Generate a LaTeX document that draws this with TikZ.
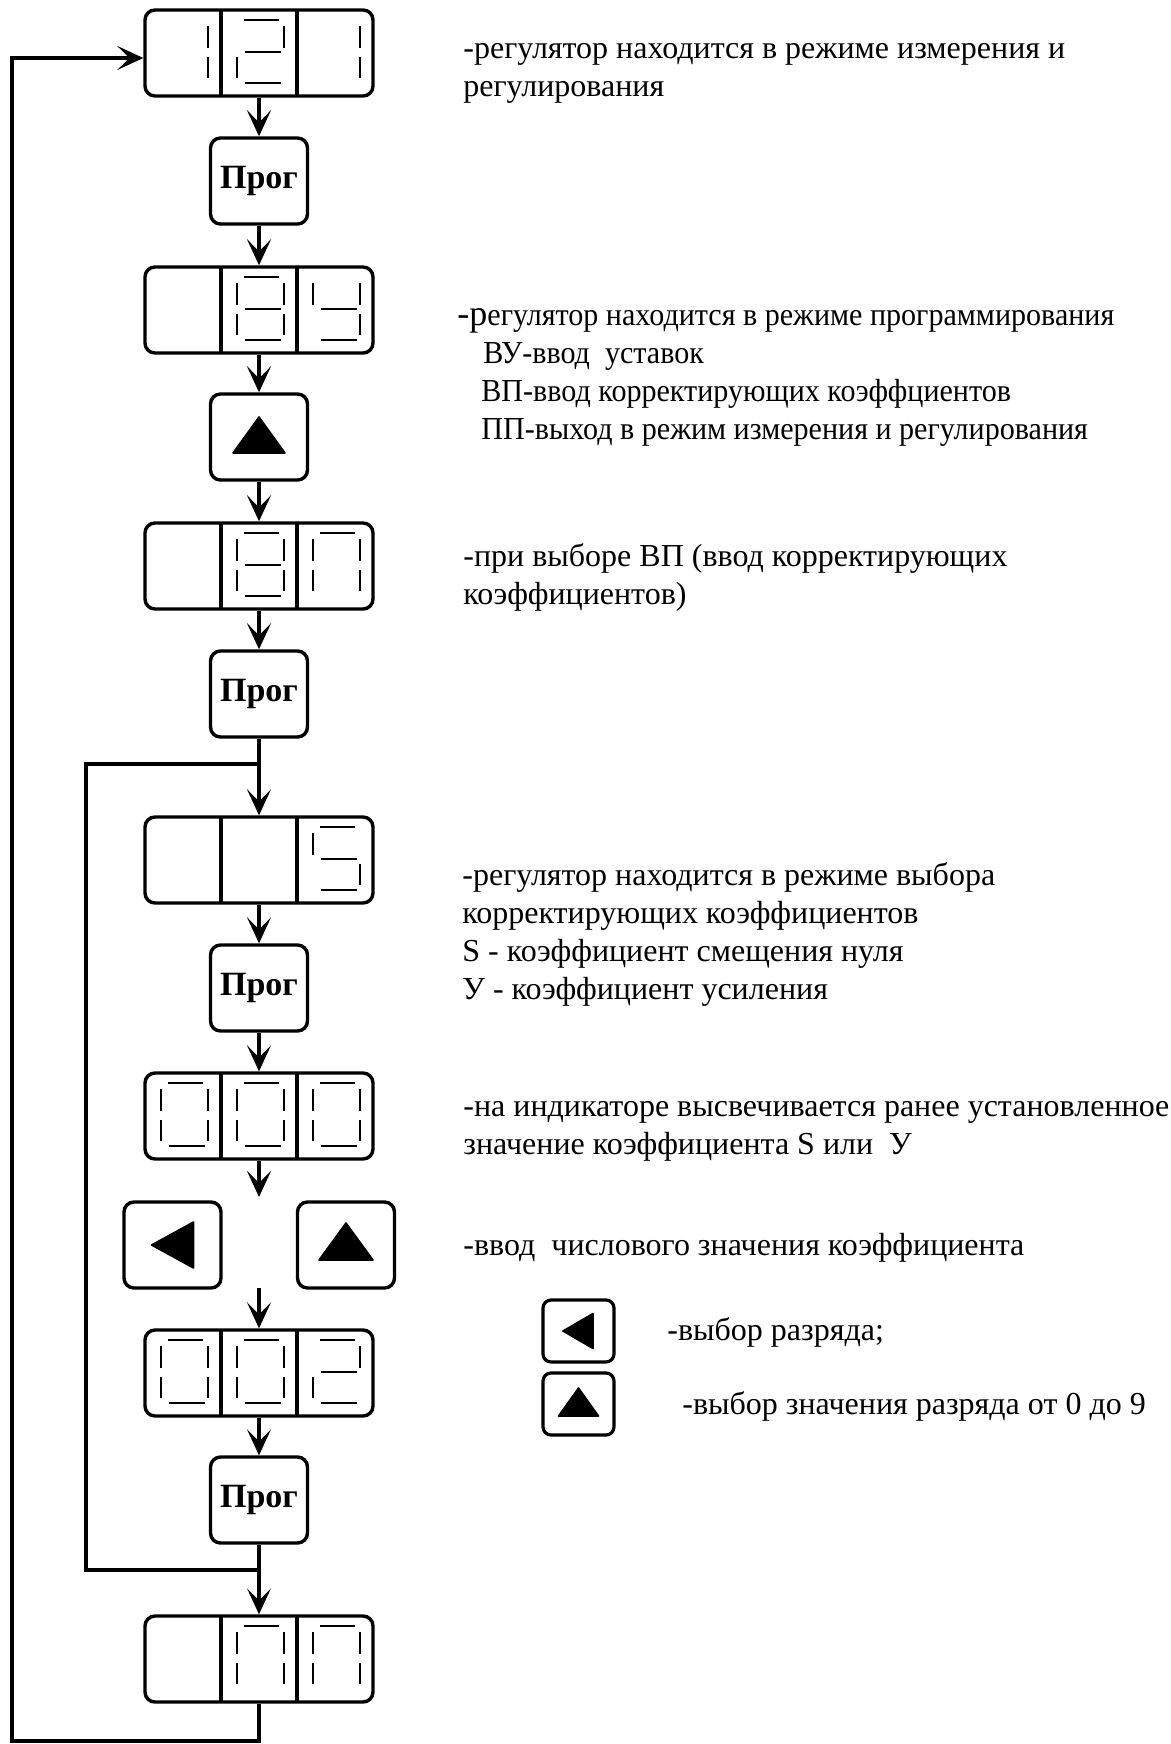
\documentclass[tikz,border=0pt]{standalone}
\usepackage{fontspec}
\setmainfont{Liberation Serif}
\newfontfamily\narrowfont[FakeStretch=0.94]{Liberation Serif}
\usetikzlibrary{arrows.meta}

\tikzset{
  dispbox/.style={draw, line width=1.7pt, rounded corners=5pt, minimum width=114pt, minimum height=43pt, inner sep=0pt},
  keybox/.style={draw, line width=1.7pt, rounded corners=5pt, minimum width=48.5pt, minimum height=43pt, inner sep=0pt, font=\fontsize{17}{17}\selectfont\bfseries},
  smallkey/.style={draw, line width=1.6pt, rounded corners=4pt, minimum width=35.5pt, minimum height=31pt, inner sep=0pt},
  segm/.style={line width=1.4pt},
  wire/.style={line width=1.6pt},
  flow/.style={wire, -{Stealth[length=13pt, width=12pt, inset=6pt]}},
  tri/.style={fill=black, draw, line width=0.8pt, line join=round},
  note/.style={anchor=north west, inner sep=0pt, align=left, font=\fontsize{16}{18.9}\selectfont},
}

% one segment of a digit cell: left x, top y
\newcommand\sgA[2]{\draw[segm] (#1+23,#2+10) -- (#1+58,#2+10);}
\newcommand\sgB[2]{\draw[segm] (#1+63,#2+16) -- (#1+63,#2+38);}
\newcommand\sgC[2]{\draw[segm] (#1+63,#2+47) -- (#1+63,#2+68);}
\newcommand\sgD[2]{\draw[segm] (#1+24,#2+73) -- (#1+60,#2+73);}
\newcommand\sgE[2]{\draw[segm] (#1+16,#2+47) -- (#1+16,#2+68);}
\newcommand\sgF[2]{\draw[segm] (#1+16,#2+16) -- (#1+16,#2+38);}
\newcommand\sgG[2]{\draw[segm] (#1+24,#2+42) -- (#1+60,#2+42);}
\newcommand\digit[3]{\foreach \s in {#3} {\csname sg\s\endcsname{#1}{#2}}}
% indicator with three cells: name, left x, top y
\newcommand\display[3]{%
  \node[dispbox] (#1) at (#2+114,#3+43) {};
  \draw[wire] (#2+76,#3) -- (#2+76,#3+86) (#2+152,#3) -- (#2+152,#3+86);}
\newcommand\uptri[4]{\filldraw[tri] ([shift={(0,-#3)}]#1.center) -- ([shift={(#2,#4)}]#1.center) -- ([shift={(-#2,#4)}]#1.center) -- cycle;}
\newcommand\lefttri[4]{\filldraw[tri] ([shift={(-#2,0)}]#1.center) -- ([shift={(#3,-#4)}]#1.center) -- ([shift={(#3,#4)}]#1.center) -- cycle;}

\begin{document}
\begin{tikzpicture}[x=0.5pt,y=0.5pt,yscale=-1,xscale=1]
\useasboundingbox (0,0) rectangle (1171,1744);

% indicators
\display{d121}{145}{10}
\digit{145}{10}{B,C} \digit{221}{10}{A,B,G,E,D} \digit{297}{10}{B,C}
\display{d8U}{145}{267}
\digit{221}{267}{A,B,C,D,E,F,G} \digit{297}{267}{F,B,G,C,D}
\display{d8P}{145}{523}
\digit{221}{523}{A,B,C,D,E,F,G} \digit{297}{523}{A,B,C,E,F}
\display{d5}{145}{817}
\digit{297}{817}{A,F,G,C,D}
\display{d000}{145}{1073}
\digit{145}{1073}{A,B,C,D,E,F} \digit{221}{1073}{A,B,C,D,E,F} \digit{297}{1073}{A,B,C,D,E,F}
\display{d002}{145}{1330}
\digit{145}{1330}{A,B,C,D,E,F} \digit{221}{1330}{A,B,C,D,E,F} \digit{297}{1330}{A,B,G,E,D}
\display{dPP}{145}{1616}
\digit{221}{1616}{A,B,C,E,F} \digit{297}{1616}{A,B,C,E,F}

% keys
\node[keybox] (prog1) at (259,181) {\raisebox{3pt}{Прог}};
\node[keybox] (up1) at (259,437) {};
\uptri{up1}{26}{20}{16}
\node[keybox] (prog2) at (259,694) {\raisebox{3pt}{Прог}};
\node[keybox] (prog3) at (259,988) {\raisebox{3pt}{Прог}};
\node[keybox] (lkey) at (172.5,1245) {};
\lefttri{lkey}{21}{21}{23}
\node[keybox] (up2) at (346,1245) {};
\uptri{up2}{27}{22}{15}
\node[keybox] (prog4) at (259,1500) {\raisebox{3pt}{Прог}};

% flow
\coordinate (loopin) at (259,764);
\coordinate (loopout) at (259,1570);
\coordinate (inner) at (86,1570);
\coordinate (outer) at (12,1741);
\coordinate (fork) at (259,1197);
\coordinate (join) at (259,1288);
\draw[flow] (d121) -- (prog1);
\draw[flow] (prog1) -- (d8U);
\draw[flow] (d8U) -- (up1);
\draw[flow] (up1) -- (d8P);
\draw[flow] (d8P) -- (prog2);
\draw[flow] (prog2) -- (d5);
\draw[flow] (d5) -- (prog3);
\draw[flow] (prog3) -- (d000);
\draw[flow] (d000) -- (fork);
\draw[flow] (join) -- (d002);
\draw[flow] (d002) -- (prog4);
\draw[flow] (prog4) -- (dPP);
\draw[wire] (loopout) -- (inner) |- (loopin);
\draw[flow] (dPP) |- (outer) |- ([yshift=2.5pt]d121.west);

% notes
\node[note] (notemeasure) at (463,32) {\strut-регулятор находится в режиме измерения и\\регулирования};
\node[note, font=\narrowfont\fontsize{16}{18.9}\selectfont] (noteprog) at (457,299) {\strut{\rmfamily\fontsize{18}{18.9}\selectfont -р}егулятор находится в режиме программирования\\
  \hspace{13pt}ВУ-ввод\ \ уставок\\
  \hspace{12pt}ВП-ввод корректирующих коэффциентов\\
  \hspace{12pt}ПП-выход в режим измерения и регулирования};
\node[note] (notevp) at (463,540) {\strut-при выборе ВП (ввод корректирующих\\коэффициентов)};
\node[note] (noteselect) at (462,859) {\strut-регулятор находится в режиме выбора\\корректирующих коэффициентов\\S - коэффициент смещения нуля\\У - коэффициент усиления};
\node[note] (noteshow) at (463,1090) {\strut-на индикаторе высвечивается ранее установленное\\значение коэффициента S или\ \ У};
\node[note] (noteinput) at (463,1229) {\strut-ввод\ \ числового значения коэффициента};

% legend
\node[smallkey] (legleft) at (578.5,1331) {};
\lefttri{legleft}{15.5}{14.5}{17.5}
\node[smallkey] (legup) at (578.5,1404) {};
\uptri{legup}{20}{16}{12}
\node[note] (noteleft) at (667,1314) {\strut-выбор разряда;};
\node[note] (noteup) at (682,1388) {\strut-выбор значения разряда от 0 до 9};
\end{tikzpicture}
\end{document}
